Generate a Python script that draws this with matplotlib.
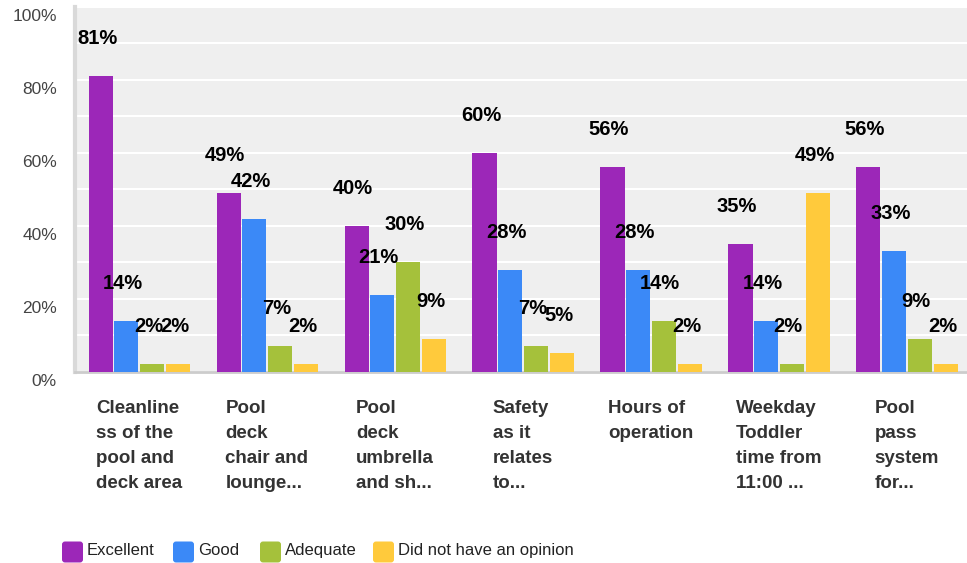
import matplotlib.pyplot as plt
import matplotlib.transforms as mtransforms
from matplotlib.patches import FancyBboxPatch
import numpy as np

plt.rcParams['font.family'] = ['Liberation Sans', 'DejaVu Sans']

categories = ['Cleanline\nss of the\npool and\ndeck area',
              'Pool\ndeck\nchair and\nlounge...',
              'Pool\ndeck\numbrella\nand sh...',
              'Safety\nas it\nrelates\nto...',
              'Hours of\noperation',
              'Weekday\nToddler\ntime from\n11:00 ...',
              'Pool\npass\nsystem\nfor...']
series_names = ['Excellent', 'Good', 'Adequate', 'Did not have an opinion']
excellent = [81, 49, 40, 60, 56, 35, 56]
good = [14, 42, 21, 28, 28, 14, 33]
adequate = [2, 7, 30, 7, 14, 2, 9]
no_opinion = [2, 2, 9, 5, 2, 49, 2]
colors = ['#9c27b8', '#3b89f7', '#a5c13b', '#ffca3c']

W, H = 967, 563
fig = plt.figure(figsize=(W / 100, H / 100), dpi=100)
ax = fig.add_axes([75 / W, 1 - 371.7 / H, 1 - 75 / W, (371.7 - 7) / H])
ax.set_facecolor('#efefef')

x = np.arange(len(categories))
width = 0.188
offsets = [-0.3, -0.1, 0.1, 0.305]
all_series = [excellent, good, adequate, no_opinion]
for vals, off, col, name in zip(all_series, offsets, colors, series_names):
    bars = ax.bar(x + off, vals, width, color=col, label=name, zorder=3)
    for b, v in zip(bars, vals):
        ax.annotate('%d%%' % v, (b.get_x() + b.get_width() / 2, v),
                    xytext=(-2.5, 27), textcoords='offset points',
                    ha='center', va='center', fontsize=14.5,
                    fontweight='bold', color='black', zorder=5)

ax.set_xlim(-0.5, 6.47)
ax.set_ylim(0, 100)
ax.set_axisbelow(True)
ax.set_yticks(np.arange(0, 101, 20))
ax.set_yticks(np.arange(0, 101, 10), minor=True)
ax.yaxis.grid(True, which='both', color='white', linewidth=1.5)
ax.set_yticklabels(['%d%%' % v for v in range(0, 101, 20)])
ax.tick_params(axis='y', which='both', length=0, pad=13, labelsize=12.5,
               labelcolor='#444444')
shift = mtransforms.ScaledTranslation(0, -8 / 100, fig.dpi_scale_trans)
for t in ax.get_yticklabels():
    t.set_transform(t.get_transform() + shift)

ax.set_xticks(x)
ax.set_xticklabels(categories)
ax.tick_params(axis='x', length=0, pad=20.5, labelsize=13.5, labelcolor='#333333')
for t in ax.get_xticklabels():
    t.set_fontweight('bold')
    t.set_multialignment('left')
    t.set_linespacing(1.6)
    t.set_verticalalignment('top')

for s in ['top', 'right']:
    ax.spines[s].set_visible(False)
ax.spines['left'].set_color('#d9d9d9')
ax.spines['left'].set_linewidth(3)
ax.spines['bottom'].set_color('#cccccc')
ax.spines['bottom'].set_linewidth(2)

# legend drawn by hand so the entries sit where the reference has them
legend_x = [62, 173, 260, 373]
for px, col, name in zip(legend_x, colors, series_names):
    sq = FancyBboxPatch((px / 100, 0.005), 0.21, 0.21,
                        boxstyle='round,pad=0,rounding_size=0.03',
                        fc=col, ec='none', transform=fig.dpi_scale_trans)
    fig.patches.append(sq)
    fig.text((px + 25) / 100, (H - 555) / 100, name, fontsize=12,
             color='#222222', va='baseline', ha='left',
             transform=fig.dpi_scale_trans)

fig.savefig('out.png', dpi=100)
